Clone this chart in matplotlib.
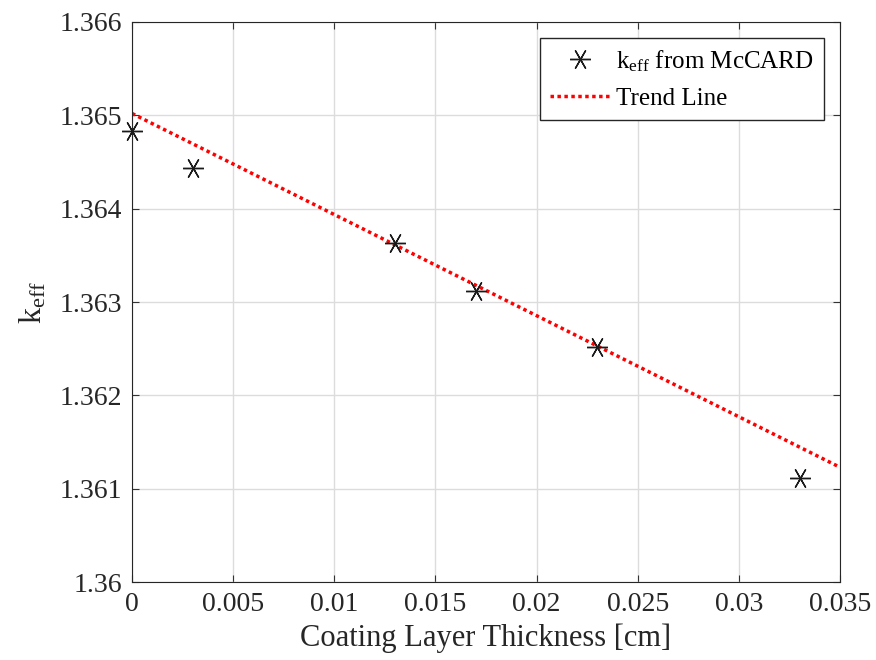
import matplotlib
matplotlib.use("Agg")
import matplotlib.pyplot as plt
from matplotlib.ticker import FuncFormatter

plt.rcParams['font.family'] = ['Liberation Serif', 'DejaVu Serif']
plt.rcParams['mathtext.fontset'] = 'custom'
plt.rcParams['mathtext.rm'] = 'Liberation Serif'
plt.rcParams['mathtext.it'] = 'Liberation Serif:italic'

# McCARD results
thickness = [0.0, 0.003, 0.013, 0.017, 0.023, 0.033]
keff = [1.36483, 1.36444, 1.36363, 1.36312, 1.36252, 1.36111]

# trend line end points
trend_x = [0.0, 0.035]
trend_y = [1.36502, 1.36123]

x_ticks = [0, 0.005, 0.01, 0.015, 0.02, 0.025, 0.03, 0.035]
y_ticks = [1.36, 1.361, 1.362, 1.363, 1.364, 1.365, 1.366]

fig = plt.figure(figsize=(8.76, 6.6), dpi=100)
ax = fig.add_axes([0.1507, 0.118, 0.8082, 0.8487])

ax.plot(thickness, keff, linestyle='none', marker=(6, 2, 90), markersize=15,
        color='#1a1a1a', markeredgewidth=1.0, clip_on=False, zorder=3,
        label=r'k$_{\rm eff}$ from McCARD')
ax.plot(trend_x, trend_y, color='red', linestyle=(0, (1, 1)), linewidth=2.5,
        label='Trend Line')

ax.set_xlim(0, 0.035)
ax.set_ylim(1.36, 1.366)
ax.set_xticks(x_ticks)
ax.set_yticks(y_ticks)
fmt = FuncFormatter(lambda v, p: ('%.4f' % v).rstrip('0').rstrip('.'))
ax.xaxis.set_major_formatter(fmt)
ax.yaxis.set_major_formatter(fmt)
ax.tick_params(direction='in', top=True, right=True, labelsize=20, length=5,
               color='#333333', labelcolor='#262626', pad=7)
ax.grid(True, color='#dcdcdc', linewidth=1)
ax.set_axisbelow(True)
for s in ax.spines.values():
    s.set_color('#262626')

ax.set_xlabel('Coating Layer Thickness [cm]', fontsize=22, color='#262626',
              labelpad=5)
ax.set_ylabel(r'k$_{\rm eff}$', fontsize=23, color='#262626', labelpad=8)

leg = ax.legend(loc='upper right', fontsize=18, fancybox=False, framealpha=1,
                edgecolor='#262626', borderaxespad=0.65, handlelength=2.4,
                borderpad=0.4, labelspacing=0.55, handletextpad=0.25)
leg.get_frame().set_linewidth(1.0)

fig.savefig('out.png', dpi=100)
